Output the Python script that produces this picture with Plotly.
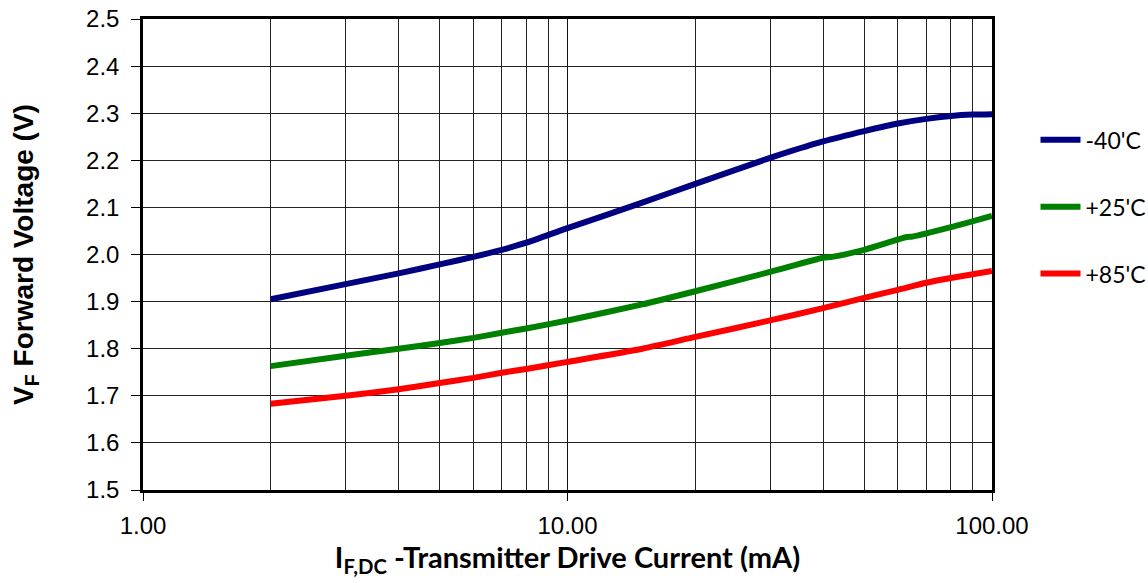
import plotly.graph_objects as go

# Drive current (mA) and forward voltage (V) per temperature
current_m40 = [2, 3, 4, 5, 6, 7, 8, 10, 15, 20, 30, 40, 50, 60, 70, 80, 90, 100]
vf_m40 = [1.905, 1.937, 1.960, 1.979, 1.995, 2.010, 2.025, 2.056, 2.110, 2.150,
          2.205, 2.240, 2.262, 2.278, 2.288, 2.294, 2.297, 2.298]

current_p25 = [2, 3, 4, 5, 6, 7, 8, 10, 15, 20, 30, 40, 42, 50, 63, 65, 80, 100]
vf_p25 = [1.763, 1.785, 1.800, 1.812, 1.823, 1.834, 1.843, 1.860, 1.894, 1.922,
          1.963, 1.993, 1.995, 2.010, 2.037, 2.038, 2.058, 2.082]

current_p85 = [2, 3, 4, 5, 6, 7, 8, 10, 15, 20, 30, 40, 50, 60, 70, 80, 100]
vf_p85 = [1.683, 1.700, 1.714, 1.727, 1.738, 1.749, 1.757, 1.772, 1.800, 1.825,
          1.860, 1.886, 1.908, 1.925, 1.940, 1.950, 1.965]

series_names = ["-40'C", "+25'C", "+85'C"]
series_colors = ["#000080", "#008000", "#FF0000"]

x_major = [1, 10, 100]
x_major_text = ["1.00", "10.00", "100.00"]
x_minor = [2, 3, 4, 5, 6, 7, 8, 9, 20, 30, 40, 50, 60, 70, 80, 90]

fig = go.Figure()
for i, (xs, ys) in enumerate([(current_m40, vf_m40), (current_p25, vf_p25), (current_p85, vf_p85)]):
    fig.add_trace(go.Scatter(
        x=xs, y=ys, mode="lines", name=series_names[i],
        legendgroup=f"g{i}",
        line=dict(color=series_colors[i], width=6, shape="spline", smoothing=0.6),
    ))

fig.update_layout(
    width=1148, height=583,
    margin=dict(l=143, r=156, t=19, b=93, autoexpand=False),
    paper_bgcolor="white", plot_bgcolor="white",
    showlegend=True,
    legend=dict(
        xref="container", yref="container",
        x=0.902, y=0.797, xanchor="left", yanchor="top",
        font=dict(family="Lato, Open Sans, Liberation Sans, Arial", size=23, color="black"),
        tracegroupgap=34, itemwidth=40,
        bgcolor="rgba(0,0,0,0)",
    ),
    xaxis=dict(
        type="log", range=[0, 2], automargin=False,
        tickmode="array", tickvals=x_major, ticktext=x_major_text,
        ticks="outside", ticklen=8, tickcolor="black", tickwidth=1,
        ticklabelstandoff=4,
        tickfont=dict(family="Liberation Sans, Arial", size=24, color="black"),
        showgrid=True, gridcolor="#111", gridwidth=1,
        minor=dict(tickmode="array", tickvals=x_minor, showgrid=True,
                   gridcolor="#222", gridwidth=1, ticks=""),
        showline=True, linecolor="black", linewidth=2.5, mirror=True,
        zeroline=False,
        title=dict(
            text="<b>I<sub>F,DC</sub> -Transmitter Drive Current (mA)</b>",
            font=dict(family="Lato, Liberation Sans, Arial", size=29, color="black"),
            standoff=0,
        ),
    ),
    yaxis=dict(
        range=[1.5, 2.5], dtick=0.1, tick0=1.5, tickformat=".1f", automargin=False,
        ticks="outside", ticklen=9, tickcolor="black", tickwidth=1,
        ticklabelstandoff=7,
        tickfont=dict(family="Liberation Sans, Arial", size=24, color="black"),
        showgrid=True, gridcolor="#222", gridwidth=1,
        showline=True, linecolor="black", linewidth=2.5, mirror=True,
        zeroline=False,
        title=dict(
            text="<b>V<sub>F</sub> Forward Voltage (V)</b>",
            font=dict(family="Liberation Sans, Arial", size=28, color="black"),
            standoff=45,
        ),
    ),
)

fig.write_html("out.html")
